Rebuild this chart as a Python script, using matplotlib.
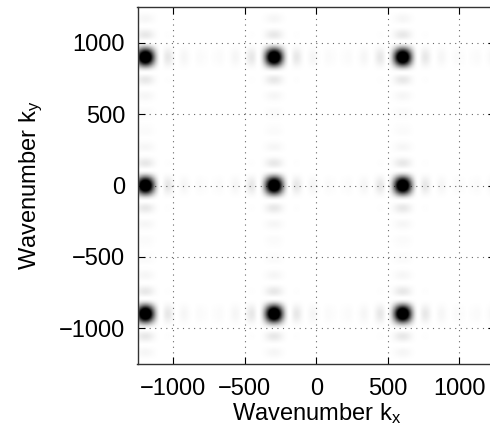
import numpy as np
import matplotlib
matplotlib.use('Agg')
import matplotlib.pyplot as plt

plt.rcParams['font.family'] = 'Liberation Sans'
plt.rcParams['mathtext.fontset'] = 'custom'
plt.rcParams['mathtext.rm'] = 'Liberation Sans'
plt.rcParams['mathtext.it'] = 'Liberation Sans'

# peak positions (wavenumbers)
kx_peaks = [-1200, -300, 600, 1500]
ky_peaks = [-900, 0, 900]
peak_amp = [1.0, 1.0, 1.0, 1.0]
lobe = 110.0          # spacing of the sinc zeros
ticks = [-1000, -500, 0, 500, 1000]

kx = np.linspace(-1250, 1250, 600)
ky = np.linspace(-1250, 1250, 600)
KX, KY = np.meshgrid(kx, ky)

Z = np.zeros_like(KX)
for px, a in zip(kx_peaks, peak_amp):
    for py in ky_peaks:
        s = a * np.abs(np.sinc((KX - px) / lobe) * np.sinc((KY - py) / lobe))
        Z = np.maximum(Z, s)
Z = Z ** 1.8

fig = plt.figure(figsize=(4.9, 4.37), dpi=100)
ax = fig.add_axes([137.5 / 490, 73 / 437, 357.5 / 490, 357 / 437])

ax.imshow(Z, cmap='gray_r', vmin=0, vmax=0.7, origin='lower',
          extent=[-1250, 1250, -1250, 1250], aspect='auto', interpolation='bilinear')

ax.set_xlim(-1250, 1250)
ax.set_ylim(-1250, 1250)
ax.set_xticks(ticks)
ax.set_yticks(ticks)
ax.grid(True, color='k', linestyle=(0, (1, 4)), linewidth=0.8, alpha=0.6)
ax.tick_params(direction='in', top=True, right=True, labelsize=17, length=5)
ax.tick_params(axis='x', pad=10)
ax.tick_params(axis='y', pad=9)
for sp in ax.spines.values():
    sp.set_linewidth(1.0)
    sp.set_color('#333333')

ax.set_xlabel(r'Wavenumber k$_\mathrm{x}$', fontsize=17, labelpad=1)
ax.set_ylabel(r'Wavenumber k$_\mathrm{y}$', fontsize=17, labelpad=10)

fig.savefig('out.png', dpi=100)
